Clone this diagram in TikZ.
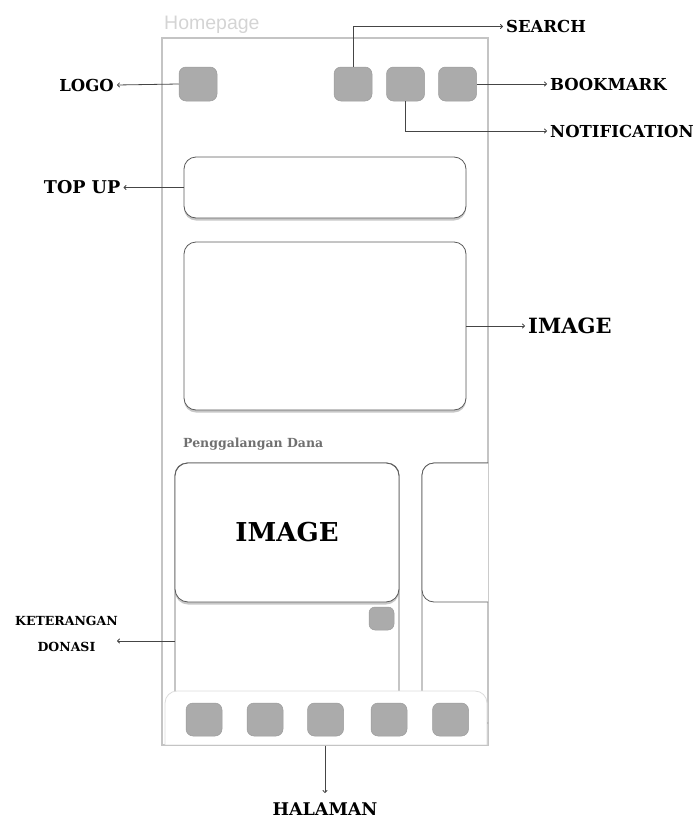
\documentclass[tikz,border=0pt]{standalone}
\usepackage{fontspec}
\setmainfont{DejaVu Serif}
\newfontfamily\hpfont{Liberation Sans}
\usetikzlibrary{shadows,arrows.meta}
\definecolor{iconfill}{HTML}{ABABAB}
\definecolor{iconline}{HTML}{9C9C9C}
\definecolor{boxline}{HTML}{5A5A5A}
\definecolor{connline}{HTML}{454545}
\definecolor{frameline}{HTML}{C4C4C4}
\definecolor{barline}{HTML}{DCDCDC}
\definecolor{hptext}{HTML}{D4D4D4}
\definecolor{sectext}{HTML}{707070}
\begin{document}
\begin{tikzpicture}[x=1pt,y=-1pt,
  icon/.style={draw=iconline,fill=iconfill,rounded corners=7pt,line width=0.5pt,inner sep=0pt},
  panel/.style={draw=boxline,fill=white,rounded corners=12pt,line width=0.8pt,inner sep=0pt,
    drop shadow={shadow xshift=0pt,shadow yshift=-2.5pt,opacity=0.22,fill=black}},
  cardline/.style={draw=boxline,line width=0.8pt,rounded corners=12pt,inner sep=0pt},
  conn/.style={draw=connline,line width=0.8pt,-{To[length=3pt,width=5pt]}},
  lbl/.style={font=\bfseries\fontsize{#1}{#1}\selectfont,inner sep=3pt,text=black},
  lbl/.default=17
]
\useasboundingbox (0,0) rectangle (695,819);

% phone frame
\node[draw=frameline,line width=1.2pt,minimum width=326pt,minimum height=707pt,inner sep=0pt] (frame) at (325,391.5) {};
\node[anchor=base west,font=\hpfont\fontsize{19.5}{20}\selectfont,text=hptext,inner sep=0pt] (homepage) at (164,29) {Homepage};

% top icons
\node[icon,minimum width=38pt,minimum height=34pt] (logo) at (198,84) {};
\node[icon,minimum width=38pt,minimum height=34pt] (search) at (353,84) {};
\node[icon,minimum width=38pt,minimum height=34pt] (notif) at (405.5,84) {};
\node[icon,minimum width=38pt,minimum height=34pt] (bookmark) at (457.5,84) {};

% top up and image panels
\node[panel,minimum width=282pt,minimum height=61pt] (topup) at (325,187.5) {};
\node[panel,minimum width=282pt,minimum height=168pt] (image) at (325,326) {};

% section title
\node[anchor=base west,font=\bfseries\fontsize{12.5}{14}\selectfont,text=sectext,inner sep=0pt] (section) at (183,447) {Penggalangan Dana};

% card 1
\node[cardline,minimum width=224pt,minimum height=260pt] (card1) at (287,593) {};
\node[panel,rounded corners=13pt,minimum width=224pt,minimum height=139pt] (card1img) at (287,532.5)
  {\bfseries\fontsize{26}{26}\selectfont IMAGE};
\node[icon,rounded corners=6pt,minimum width=25pt,minimum height=23pt] (donate) at (381.5,618.5) {};

% card 2 (clipped by frame)
\begin{scope}
\clip (162,38) rectangle (488,745);
\node[cardline,minimum width=140pt,minimum height=260pt] (card2) at (492,593) {};
\node[cardline,fill=white,minimum width=140pt,minimum height=139pt] (card2img) at (492,532.5) {};
\end{scope}

% bottom bar
\draw[draw=barline,fill=white,line width=0.8pt] (165,745) [rounded corners=12pt] -- (165,691) -- (487,691) [sharp corners] -- (487,745) -- cycle;
\node[icon,minimum width=36pt,minimum height=33pt] (nav1) at (204,719.5) {};
\node[icon,minimum width=36pt,minimum height=33pt] (nav2) at (265,719.5) {};
\node[icon,minimum width=36pt,minimum height=33pt] (nav3) at (325.5,719.5) {};
\node[icon,minimum width=36pt,minimum height=33pt] (nav4) at (389,719.5) {};
\node[icon,minimum width=36pt,minimum height=33pt] (nav5) at (450.5,719.5) {};
\draw[frameline,line width=1.2pt] (frame.south west) -- (frame.south east);

% labels
\node[lbl=16.5,anchor=east] (logolbl) at (117,85) {LOGO};
\node[lbl=17.6,anchor=east] (topuplbl) at (123.5,187.5) {TOP UP};
\node[lbl=16.5,anchor=west] (searchlbl) at (503,26.5) {SEARCH};
\node[lbl=16.5,anchor=west] (bmlbl) at (547,84) {BOOKMARK};
\node[lbl=16.5,anchor=west] (notiflbl) at (547,131) {NOTIFICATION};
\node[lbl=21,anchor=west] (imagelbl) at (525,326) {IMAGE};
\node[font=\bfseries\fontsize{12.5}{26}\selectfont,align=center,inner sep=0pt] (ketlbl) at (66.5,634) {KETERANGAN\\DONASI};
\node[lbl=17.5,anchor=north,inner sep=0pt] (hallbl) at (325,803) {HALAMAN};
\coordinate (ketend) at (117,641);

% connectors
\draw[conn] (logo.west) -- (logolbl.east);
\draw[conn] (topup.west) -- (topuplbl.east);
\draw[conn] (search.north) |- (searchlbl.west);
\draw[conn] (bookmark.east) -- (bmlbl.west);
\draw[conn] (notif.south) |- (notiflbl.west);
\draw[conn] (image.east) -- (imagelbl.west);
\draw[conn] (card1.west |- ketend) -- (ketend);
\draw[conn] (frame.south) -- ([yshift=10pt]hallbl.north);
\end{tikzpicture}
\end{document}
